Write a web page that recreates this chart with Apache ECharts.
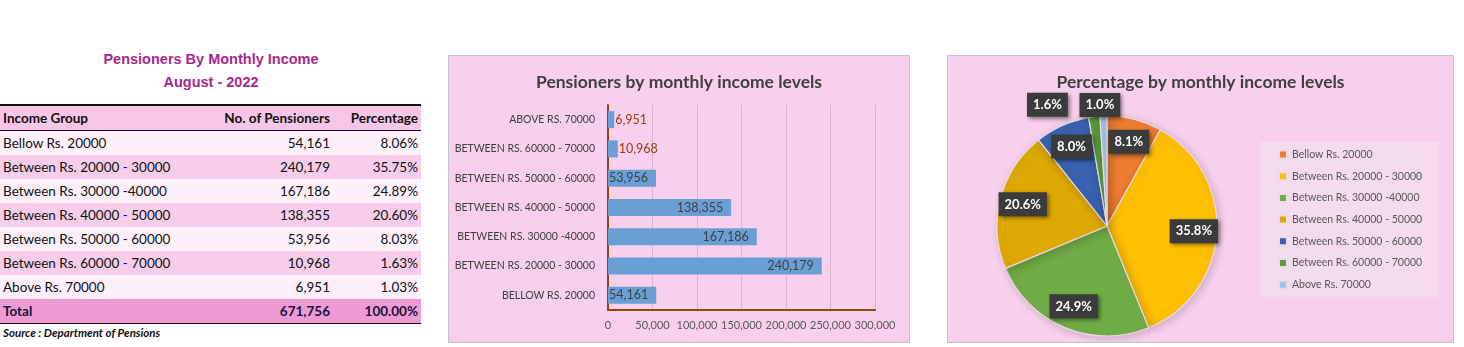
<!DOCTYPE html>
<html>
<head>
<meta charset="utf-8">
<script src="https://cdn.jsdelivr.net/npm/echarts@6/dist/echarts.min.js"></script>
<style>
  html, body { margin:0; padding:0; background:#ffffff; width:1464px; height:347px; overflow:hidden; }
  #tbl { position:absolute; left:0; top:0; width:422px; height:347px; font-family:Lato, 'Open Sans', sans-serif; }
  .ttl { position:absolute; left:0; width:422px; text-align:center; font-family:'Liberation Sans', Arial, sans-serif; font-weight:bold; font-size:14.5px; color:#a8288a; }
  table { position:absolute; left:0; top:104px; width:421px; border-collapse:collapse; table-layout:fixed; font-size:13.5px; color:#111; }
  td { height:24px; padding:0 3px; line-height:24px; white-space:nowrap; overflow:visible; }
  td.n { text-align:right; }
  tr.h td { font-weight:bold; background:#f7c6e7; border-top:2px solid #111; border-bottom:1px solid #111; height:23px; }
  tr.a td { background:#fdf0fa; }
  tr.b td { background:#f8cdea; }
  tr.t td { background:#f09ad5; font-weight:bold; color:#14143c; border-bottom:1.5px solid #111; }
  .src { position:absolute; left:3px; top:326px; font-style:italic; font-weight:bold; font-size:11.5px; color:#111; }
  .panel { position:absolute; top:55px; height:286px; background:#f8cfec; border:1px solid #c9c4c8; }
  #bar { left:448px; width:460px; }
  #pie { left:947px; width:505px; }
</style>
</head>
<body>
<div id="tbl"></div>
<div id="bar" class="panel"></div>
<div id="pie" class="panel"></div>
<script>
// ---- data ----
var tableTitle = 'Pensioners By Monthly Income';
var tableSubtitle = 'August - 2022';
var headers = ['Income Group', 'No. of Pensioners', 'Percentage'];
var categories = ['Bellow Rs. 20000', 'Between Rs. 20000 - 30000', 'Between Rs. 30000 -40000', 'Between Rs. 40000 - 50000', 'Between Rs. 50000 - 60000', 'Between Rs. 60000 - 70000', 'Above Rs. 70000'];
var pensioners = [54161, 240179, 167186, 138355, 53956, 10968, 6951];
var percentages = [8.06, 35.75, 24.89, 20.60, 8.03, 1.63, 1.03];
var totalLabel = 'Total';
var totalPercent = 100.00;
var sourceText = 'Source : Department of Pensions';
var barTitle = 'Pensioners by monthly income levels';
var pieTitle = 'Percentage by monthly income levels';
var xTicks = [0, 50000, 100000, 150000, 200000, 250000, 300000];
var pieColors = ['#ed7d31', '#ffc000', '#70ad47', '#dea900', '#3b62b0', '#5c9c3b', '#9dc3e6'];

function fmt(v) { return v.toLocaleString('en-US'); }

// ---- table ----
(function () {
  var el = document.getElementById('tbl');
  var html = '<div class="ttl" style="top:51px">' + tableTitle + '</div>';
  html += '<div class="ttl" style="top:74px">' + tableSubtitle + '</div>';
  html += '<table><colgroup><col style="width:200px"><col style="width:133px"><col style="width:88px"></colgroup>';
  html += '<tr class="h"><td>' + headers[0] + '</td><td class="n">' + headers[1] + '</td><td class="n">' + headers[2] + '</td></tr>';
  var total = 0;
  for (var i = 0; i < categories.length; i++) {
    total += pensioners[i];
    html += '<tr class="' + (i % 2 === 0 ? 'a' : 'b') + '"><td>' + categories[i] + '</td><td class="n">' + fmt(pensioners[i]) + '</td><td class="n">' + percentages[i].toFixed(2) + '%</td></tr>';
  }
  html += '<tr class="t"><td>' + totalLabel + '</td><td class="n">' + fmt(total) + '</td><td class="n">' + totalPercent.toFixed(2) + '%</td></tr></table>';
  html += '<div class="src">' + sourceText + '</div>';
  el.innerHTML = html;
})();

// ---- bar chart ----
var bar = echarts.init(document.getElementById('bar'));
bar.setOption({
  animation: false,
  title: { text: barTitle, left: 'center', top: 12, textStyle: { fontFamily: 'Lato', fontWeight: 'bold', fontSize: 17.5, color: '#404040' } },
  grid: { left: 159, right: 34, top: 49, bottom: 32 },
  xAxis: {
    type: 'value', min: xTicks[0], max: xTicks[xTicks.length - 1], interval: xTicks[1] - xTicks[0],
    axisLine: { show: true, lineStyle: { color: '#8a4b08', width: 2 } },
    axisTick: { show: false },
    splitLine: { lineStyle: { color: '#d7b6cf', width: 1 } },
    axisLabel: { formatter: function (v) { return fmt(v); }, color: '#595959', fontFamily: 'Lato', fontSize: 11, margin: 10, showMaxLabel: true, showMinLabel: true, hideOverlap: false }
  },
  yAxis: {
    type: 'category', data: categories.map(function (c) { return c.toUpperCase(); }),
    axisLine: { show: true, lineStyle: { color: '#8a4b08', width: 2 } },
    axisTick: { show: false },
    axisLabel: { color: '#404040', fontFamily: 'Lato', fontSize: 10.5, margin: 13 }
  },
  series: [{
    type: 'bar', barWidth: 17,
    itemStyle: { color: '#6a9fd6' },
    data: pensioners.map(function (v) {
      var small = v < 20000;
      return {
        value: v,
        label: {
          show: true,
          position: small ? 'right' : 'insideRight',
          distance: small ? 1 : 8,
          color: small ? '#9a3d0c' : '#3f3f3f',
          fontFamily: 'Lato', fontSize: 12.5,
          formatter: function (p) { return fmt(p.value); }
        }
      };
    })
  }]
});

// ---- pie chart ----
var pie = echarts.init(document.getElementById('pie'));
var pieData = categories.map(function (c, i) { return { name: c, value: pensioners[i] }; });
var labelBox = {
  color: '#ffffff', fontFamily: 'Lato', fontWeight: 'bold', fontSize: 13,
  backgroundColor: '#3b3b3b', padding: [6, 6, 5, 6],
  shadowColor: 'rgba(0,0,0,0.45)', shadowBlur: 4, shadowOffsetX: 2, shadowOffsetY: 2,
  formatter: function (p) { return Number(p.percent).toFixed(1) + '%'; }
};
pie.setOption({
  animation: false,
  color: pieColors,
  title: { text: pieTitle, left: 'center', top: 12, textStyle: { fontFamily: 'Lato', fontWeight: 'bold', fontSize: 17.5, color: '#404040' } },
  legend: {
    orient: 'vertical', left: 312, top: 86,
    data: categories,
    backgroundColor: '#f5dbee',
    padding: [6, 16, 6, 18],
    itemWidth: 8, itemHeight: 8, itemGap: 8.7,
    icon: 'rect',
    textStyle: { color: '#595959', fontFamily: 'Lato', fontSize: 10.5, lineHeight: 13 }
  },
  series: [{
    type: 'pie', center: [159, 170], radius: 110, startAngle: 90, clockwise: true,
    percentPrecision: 1, avoidLabelOverlap: false,
    itemStyle: { borderColor: '#ecd9e6', borderWidth: 1.2, shadowBlur: 10, shadowColor: 'rgba(0,0,0,0.18)', shadowOffsetX: 2, shadowOffsetY: 2 },
    label: Object.assign({ show: false, position: 'outside' }, labelBox),
    labelLine: { show: true, length: 12, length2: 20, lineStyle: { color: '#8c8c8c', width: 1 } },
    labelLayout: function (p) {
      if (p.dataIndex === 6) return { dx: 22, dy: -7 };
      return {};
    },
    data: pieData.map(function (d, i) {
      var small = percentages[i] < 5;
      var it = { name: d.name, value: d.value };
      if (small) {
        it.label = { show: true };
        if (i === 6) it.labelLine = { show: false, length: 4, length2: 0 };
      }
      return it;
    })
  }, {
    type: 'pie', center: [159, 170], radius: [58, 110], startAngle: 90, clockwise: true,
    percentPrecision: 1, silent: true, avoidLabelOverlap: false,
    itemStyle: { color: 'rgba(0,0,0,0)' },
    emphasis: { disabled: true },
    label: Object.assign({ show: true, position: 'inside' }, labelBox),
    labelLine: { show: false },
    data: pieData.map(function (d, i) {
      var small = percentages[i] < 5;
      return { name: d.name, value: d.value, label: { show: !small } };
    })
  }]
});
</script>
</body>
</html>
